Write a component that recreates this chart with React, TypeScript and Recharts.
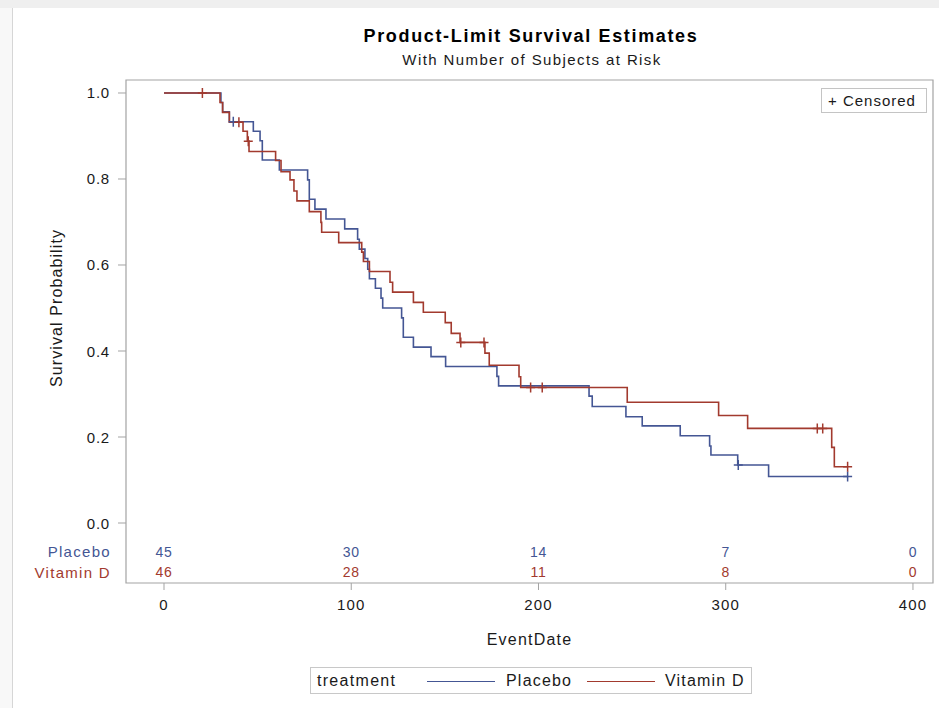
import React from "react";
import { ComposedChart, Line, Scatter, XAxis, YAxis, ReferenceArea, Legend } from "recharts";

// ---------- data ----------
const treatments = ["Placebo", "Vitamin D"];

const placeboEventTimes = [0, 30.4, 31.3, 34.9, 47.7, 51.3, 52.5, 61.6, 76.7, 77.6, 80.6, 86.5, 96.5, 103.4, 104.3, 107.3, 108.8, 109.7, 112.9, 115.9, 116.8, 126.9, 127.8, 133.2, 142.6, 150.4, 177.8, 178.7, 227, 228.7, 246.7, 255.4, 275.7, 291.4, 292.1, 306.4, 322.9];
const placeboSurvival = [1.0, 0.978, 0.956, 0.933, 0.911, 0.889, 0.844, 0.821, 0.798, 0.753, 0.73, 0.707, 0.684, 0.66, 0.637, 0.615, 0.59, 0.568, 0.546, 0.523, 0.5, 0.477, 0.432, 0.409, 0.387, 0.364, 0.341, 0.319, 0.295, 0.271, 0.247, 0.226, 0.203, 0.179, 0.158, 0.135, 0.108];
const placeboCensorTimes = [37, 306.7, 365.1];

const vitDEventTimes = [0, 29.9, 31.3, 34.9, 42.2, 44.5, 45.4, 59.6, 62.5, 67.3, 69.4, 71.0, 77.6, 83.8, 84.2, 93.3, 105.6, 106.5, 109.7, 120.7, 122.1, 133.2, 138.5, 150.2, 153.4, 158.1, 171.4, 173.7, 189.6, 190.5, 247.4, 296.2, 311.7, 356.6, 358.0];
const vitDSurvival = [1.0, 0.978, 0.955, 0.932, 0.911, 0.888, 0.864, 0.843, 0.817, 0.798, 0.772, 0.749, 0.724, 0.699, 0.676, 0.652, 0.63, 0.608, 0.585, 0.56, 0.537, 0.513, 0.49, 0.466, 0.441, 0.42, 0.395, 0.367, 0.34, 0.315, 0.281, 0.25, 0.22, 0.176, 0.131];
const vitDCensorTimes = [20.5, 40, 45, 158.5, 170.9, 195.8, 202, 348.9, 351.8, 365.1];

const atRiskTimes = [0, 100, 200, 300, 400];
const placeboAtRisk = [45, 30, 14, 7, 0];
const vitDAtRisk = [46, 28, 11, 8, 0];

const xTicks = [0, 100, 200, 300, 400];
const yTicks = [0, 0.2, 0.4, 0.6, 0.8, 1.0];

// ---------- layout / style ----------
const FONT = '"Liberation Sans", Arial, Helvetica, sans-serif';
const BLUE = "#445694";
const RED = "#a23a2e";
const AXIS_GRAY = "#a3a3a3";
const TEXT = "#1a1a1a";
const X_MIN = -20.3;
const X_MAX = 410.7;
const Y_MIN = -0.1395;
const Y_MAX = 1.0302;
const ROW_Y = [-0.0674, -0.114]; // at-risk row positions (placebo, vitamin D)
const COLORS = [BLUE, RED];

// ---------- derived series ----------
function survAt(times: number[], surv: number[], t: number) {
  let s = surv[0];
  for (let i = 0; i < times.length; i++) if (times[i] <= t) s = surv[i];
  return s;
}
function stepData(times: number[], surv: number[], censor: number[]) {
  const d = times.map((t, i) => ({ t, s: surv[i] }));
  const end = Math.max(...censor, times[times.length - 1]);
  d.push({ t: end, s: surv[surv.length - 1] });
  return d;
}
function censorData(times: number[], surv: number[], censor: number[]) {
  return censor.map((t) => ({ t, s: survAt(times, surv, t) }));
}
const placeboLine = stepData(placeboEventTimes, placeboSurvival, placeboCensorTimes);
const vitDLine = stepData(vitDEventTimes, vitDSurvival, vitDCensorTimes);
const placeboCensor = censorData(placeboEventTimes, placeboSurvival, placeboCensorTimes);
const vitDCensor = censorData(vitDEventTimes, vitDSurvival, vitDCensorTimes);
const placeboRisk = atRiskTimes.map((t, i) => ({ t, s: ROW_Y[0], n: placeboAtRisk[i] }));
const vitDRisk = atRiskTimes.map((t, i) => ({ t, s: ROW_Y[1], n: vitDAtRisk[i] }));

const plusShape = (color: string) => (p: any) => {
  const { cx, cy } = p;
  if (cx == null || cy == null) return <g />;
  return (
    <path d={`M${cx - 4.5},${cy}H${cx + 4.5}M${cx},${cy - 5}V${cy + 5}`} stroke={color} strokeWidth={1.5} fill="none" />
  );
};

const riskShape = (color: string) => (p: any) => {
  const { cx, cy, payload } = p;
  return (
    <text x={cx} y={cy} textAnchor="middle" dominantBaseline="central" fill={color} fontSize={14} fontFamily={FONT} letterSpacing={0.8}>
      {payload.n}
    </text>
  );
};

const YTick = (props: any) => {
  const { x, y, payload } = props;
  const v = payload.value as number;
  const row = ROW_Y.indexOf(v);
  if (row >= 0) {
    return (
      <text x={x + 1} y={y} textAnchor="end" dominantBaseline="central" fill={COLORS[row]} fontSize={15} fontFamily={FONT} letterSpacing={1.3}>
        {treatments[row]}
      </text>
    );
  }
  return (
    <g>
      <line x1={x + 8} x2={x + 16} y1={y} y2={y} stroke={AXIS_GRAY} strokeWidth={1} />
      <text x={x} y={y} textAnchor="end" dominantBaseline="central" fill={TEXT} fontSize={15} fontFamily={FONT} letterSpacing={0.8}>
        {v.toFixed(1)}
      </text>
    </g>
  );
};

const XTick = (props: any) => {
  const { x, y, payload } = props;
  return (
    <text x={x} y={y} dy="0.71em" textAnchor="middle" fill={TEXT} fontSize={15} fontFamily={FONT} letterSpacing={1.2}>
      {payload.value}
    </text>
  );
};

const LegendOverlay = () => (
  <div style={{ position: "relative", width: 939, height: 708, pointerEvents: "none", fontFamily: FONT, color: TEXT }}>
    <div style={{ position: "absolute", left: 821, top: 88, width: 106, height: 25, boxSizing: "border-box", border: "1px solid #c4c4c4", background: "#fff" }}>
      <span style={{ position: "absolute", left: 6, top: 3, fontSize: 15, letterSpacing: 1, whiteSpace: "nowrap" }}>+ Censored</span>
    </div>
    <div style={{ position: "absolute", left: 310, top: 667, width: 442, height: 27, boxSizing: "border-box", border: "1px solid #c8c8c8", background: "#fff" }}>
      <span style={{ position: "absolute", left: 6, top: 4, fontSize: 16, letterSpacing: 1.3, whiteSpace: "nowrap" }}>treatment</span>
      <span style={{ position: "absolute", left: 116, top: 13, width: 68, height: 0, borderTop: `1.6px solid ${BLUE}` }} />
      <span style={{ position: "absolute", left: 195, top: 4, fontSize: 16, letterSpacing: 1.2, whiteSpace: "nowrap" }}>{treatments[0]}</span>
      <span style={{ position: "absolute", left: 276, top: 13, width: 68, height: 0, borderTop: `1.6px solid ${RED}` }} />
      <span style={{ position: "absolute", left: 354, top: 4, fontSize: 16, letterSpacing: 1.2, whiteSpace: "nowrap" }}>{treatments[1]}</span>
    </div>
  </div>
);

export default function App() {
  return (
    <div style={{ position: "absolute", left: 0, top: 0, width: 939, height: 708, background: "#efefef", overflow: "hidden", fontFamily: FONT }}>
      <div style={{ position: "absolute", left: 0, top: 8, width: 12, height: 700, background: "#f8f8f8" }} />
      <div style={{ position: "absolute", left: 12, top: 8, right: 0, bottom: 0, background: "#ffffff", borderLeft: "1.5px solid #d6d6d6" }} />
      <div style={{ position: "absolute", left: 0, width: 1062, top: 26, textAlign: "center", fontWeight: "bold", fontSize: 18, letterSpacing: 1.65, color: "#000", whiteSpace: "nowrap" }}>
        Product-Limit Survival Estimates
      </div>
      <div style={{ position: "absolute", left: 0, width: 1064, top: 51, textAlign: "center", fontSize: 15, letterSpacing: 1.4, color: TEXT, whiteSpace: "nowrap" }}>
        With Number of Subjects at Risk
      </div>
      <div style={{ position: "absolute", left: 0, top: 0 }}>
        <ComposedChart width={939} height={708} margin={{ top: 80, right: 6, bottom: 65, left: 56 }} style={{ fontFamily: FONT }}>
          <XAxis
            type="number"
            dataKey="t"
            domain={[X_MIN, X_MAX]}
            allowDataOverflow
            ticks={xTicks}
            interval={0}
            height={60}
            tickSize={7}
            tickMargin={9}
            axisLine={false}
            tickLine={{ stroke: AXIS_GRAY }}
            tick={<XTick />}
            label={{
              content: (p: any) => {
                const vb = p.viewBox || {};
                return (
                  <text x={vb.x + vb.width / 2} y={vb.y + 56} textAnchor="middle" dominantBaseline="central" fill={TEXT} fontSize={16} fontFamily={FONT} letterSpacing={1.2}>
                    EventDate
                  </text>
                );
              },
            }}
          />
          <YAxis
            type="number"
            dataKey="s"
            domain={[Y_MIN, Y_MAX]}
            allowDataOverflow
            ticks={[ROW_Y[1], ROW_Y[0], ...yTicks]}
            interval={0}
            width={70}
            tickSize={8}
            tickMargin={8}
            axisLine={false}
            tickLine={false}
            tick={<YTick />}
            label={{
              content: (p: any) => {
                const vb = p.viewBox || {};
                const cy = vb.y + (vb.height * (Y_MAX - 0.5)) / (Y_MAX - Y_MIN);
                const cx = vb.x + 1;
                return (
                  <text x={cx} y={cy} transform={`rotate(-90 ${cx} ${cy})`} textAnchor="middle" dominantBaseline="central" fill={TEXT} fontSize={16} fontFamily={FONT} letterSpacing={1.1}>
                    Survival Probability
                  </text>
                );
              },
            }}
          />
          <ReferenceArea x1={X_MIN} x2={X_MAX} y1={Y_MIN} y2={Y_MAX} fill="none" stroke={AXIS_GRAY} strokeWidth={1.2} ifOverflow="visible" />
          <Line data={placeboLine} dataKey="s" type="stepAfter" stroke={BLUE} strokeWidth={1.6} dot={false} activeDot={false} isAnimationActive={false} />
          <Line data={vitDLine} dataKey="s" type="stepAfter" stroke={RED} strokeWidth={1.6} dot={false} activeDot={false} isAnimationActive={false} />
          <Scatter data={placeboCensor} shape={plusShape(BLUE)} isAnimationActive={false} />
          <Scatter data={vitDCensor} shape={plusShape(RED)} isAnimationActive={false} />
          <Scatter data={placeboRisk} shape={riskShape(BLUE)} isAnimationActive={false} />
          <Scatter data={vitDRisk} shape={riskShape(RED)} isAnimationActive={false} />
          <Legend
            layout="horizontal"
            verticalAlign="middle"
            align="center"
            content={<LegendOverlay />}
            wrapperStyle={{ position: "absolute", left: 0, top: 0, width: 939, height: 708, pointerEvents: "none" }}
          />
        </ComposedChart>
      </div>
    </div>
  );
}
